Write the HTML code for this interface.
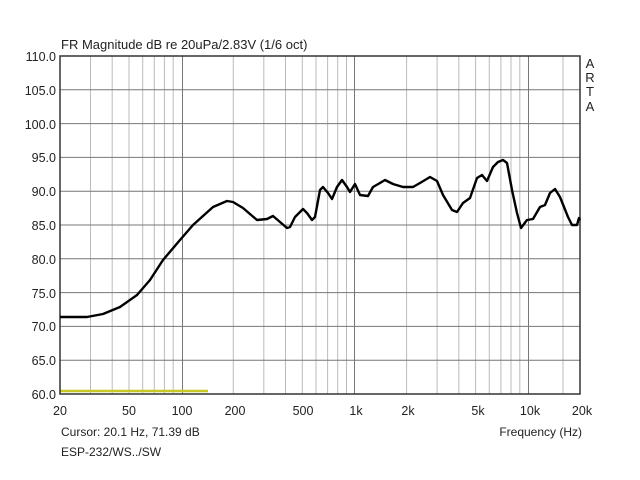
<!DOCTYPE html>
<html><head><style>
html,body{margin:0;padding:0;background:#fff;}
svg{display:block;font-family:"Liberation Sans",Arial,sans-serif;}
</style></head><body>
<svg width="640" height="480" viewBox="0 0 640 480" xmlns="http://www.w3.org/2000/svg">
<rect width="640" height="480" fill="#fff"/>
<g id="grid"></g>
<g stroke="#bbb" stroke-width="1">
<!-- minor verticals -->
<line x1="90.5" y1="56" x2="90.5" y2="394"/><line x1="112.2" y1="56" x2="112.2" y2="394"/><line x1="129" y1="56" x2="129" y2="394"/><line x1="142.7" y1="56" x2="142.7" y2="394"/><line x1="154.3" y1="56" x2="154.3" y2="394"/><line x1="164.4" y1="56" x2="164.4" y2="394"/><line x1="173.2" y1="56" x2="173.2" y2="394"/>
<line x1="233.3" y1="56" x2="233.3" y2="394"/><line x1="263.8" y1="56" x2="263.8" y2="394"/><line x1="285.5" y1="56" x2="285.5" y2="394"/><line x1="302.3" y1="56" x2="302.3" y2="394"/><line x1="316" y1="56" x2="316" y2="394"/><line x1="327.6" y1="56" x2="327.6" y2="394"/><line x1="337.7" y1="56" x2="337.7" y2="394"/><line x1="346.5" y1="56" x2="346.5" y2="394"/>
<line x1="406.6" y1="56" x2="406.6" y2="394"/><line x1="437.1" y1="56" x2="437.1" y2="394"/><line x1="458.8" y1="56" x2="458.8" y2="394"/><line x1="475.6" y1="56" x2="475.6" y2="394"/><line x1="489.3" y1="56" x2="489.3" y2="394"/><line x1="500.9" y1="56" x2="500.9" y2="394"/><line x1="511" y1="56" x2="511" y2="394"/><line x1="519.8" y1="56" x2="519.8" y2="394"/>
<line x1="563" y1="56" x2="563" y2="394"/>
</g>
<g stroke="#777" stroke-width="1">
<line x1="182.5" y1="56" x2="182.5" y2="394"/><line x1="354.5" y1="56" x2="354.5" y2="394"/><line x1="528.5" y1="56" x2="528.5" y2="394"/>
<line x1="60" y1="89.8" x2="580" y2="89.8"/><line x1="60" y1="123.6" x2="580" y2="123.6"/><line x1="60" y1="157.4" x2="580" y2="157.4"/><line x1="60" y1="191.2" x2="580" y2="191.2"/><line x1="60" y1="225" x2="580" y2="225"/><line x1="60" y1="258.8" x2="580" y2="258.8"/><line x1="60" y1="292.6" x2="580" y2="292.6"/><line x1="60" y1="326.4" x2="580" y2="326.4"/><line x1="60" y1="360.2" x2="580" y2="360.2"/>
</g>
<line x1="60" y1="391" x2="208" y2="391" stroke="#c8c828" stroke-width="2.5"/>
<rect x="60" y="56" width="520" height="338" fill="none" stroke="#333" stroke-width="1.5"/>
<polyline fill="none" stroke="#000" stroke-width="2.4" stroke-linejoin="round" points="60,317 87,317 103,314 120,307 137,295 150,280 163,260 180,240 193,225 213,207 227,201 233,202 243,208 257,220 267,219 273,216 280,222 287,228 290,227 295,217 303,209 307,213 312,220 315,217 320,190 323,187 328,193 332,199 337,187 342,180 347,187 350,192 355,184 360,195 368,196 373,187 380,183 385,180 393,184 403,187 413,187 420,183 430,177 437,181 443,195 452,210 457,212 463,203 470,198 477,178 482,175 487,181 493,167 498,162 503,160 507,163 512,190 517,213 521,228 527,220 533,219 540,207 545,205 550,193 555,189 560,197 568,217 572,225 577,225 579,218 580,220"/>
<g font-size="12.5" fill="#222" text-anchor="end">
<text x="56" y="61">110.0</text><text x="56" y="95">105.0</text><text x="56" y="129">100.0</text><text x="56" y="162">95.0</text><text x="56" y="196">90.0</text><text x="56" y="230">85.0</text><text x="56" y="264">80.0</text><text x="56" y="298">75.0</text><text x="56" y="331">70.0</text><text x="56" y="365">65.0</text><text x="56" y="399">60.0</text>
</g>
<g font-size="12.5" fill="#222" text-anchor="middle">
<text x="60" y="415">20</text><text x="129" y="415">50</text><text x="182" y="415">100</text><text x="235" y="415">200</text><text x="303" y="415">500</text><text x="356" y="415">1k</text><text x="408" y="415">2k</text><text x="478" y="415">5k</text><text x="530" y="415">10k</text><text x="582" y="415">20k</text>
</g>
<text x="61" y="49" font-size="13" fill="#222">FR Magnitude dB re 20uPa/2.83V (1/6 oct)</text>
<g font-size="13" fill="#222" text-anchor="middle"><text x="590" y="68">A</text><text x="590" y="82">R</text><text x="590" y="96">T</text><text x="590" y="111">A</text></g>
<text x="61" y="436" font-size="12" fill="#222">Cursor: 20.1 Hz, 71.39 dB</text>
<text x="61" y="456" font-size="12" fill="#222">ESP-232/WS../SW</text>
<text x="582" y="436" font-size="12" fill="#222" text-anchor="end">Frequency (Hz)</text>
</svg>
</body></html>
